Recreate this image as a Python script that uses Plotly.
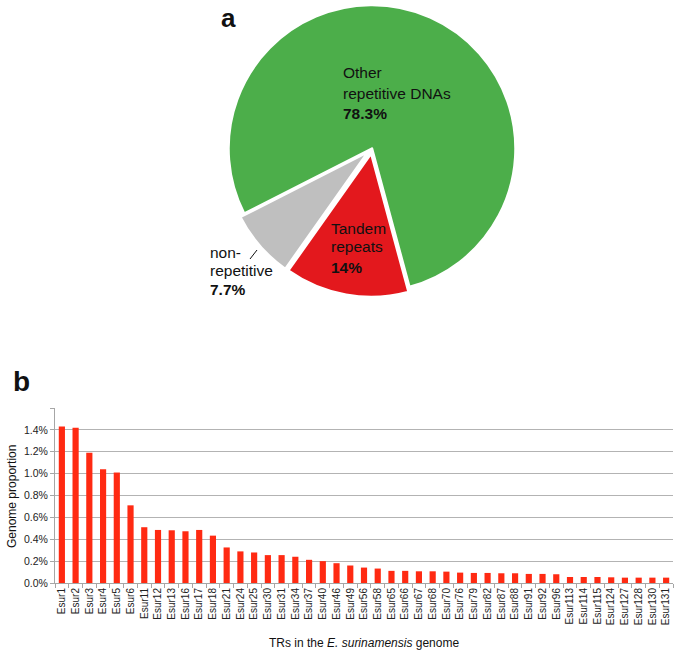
import plotly.graph_objects as go

# ---- data ----
pie_labels = ["Other repetitive DNAs", "Tandem repeats", "non-repetitive"]
pie_values = [78.3, 14.0, 7.7]
pie_colors = ["#4CAE4A", "#E3181D", "#BFBFBF"]

tr_names = ["Esur1", "Esur2", "Esur3", "Esur4", "Esur5", "Esur6", "Esur11", "Esur12",
            "Esur13", "Esur16", "Esur17", "Esur18", "Esur21", "Esur24", "Esur25", "Esur30",
            "Esur31", "Esur34", "Esur37", "Esur40", "Esur46", "Esur49", "Esur56", "Esur58",
            "Esur65", "Esur66", "Esur67", "Esur68", "Esur70", "Esur76", "Esur79", "Esur82",
            "Esur87", "Esur88", "Esur91", "Esur92", "Esur96", "Esur113", "Esur114", "Esur115",
            "Esur124", "Esur127", "Esur128", "Esur130", "Esur131"]
tr_values = [1.43, 1.42, 1.19, 1.04, 1.01, 0.71, 0.51, 0.485, 0.482, 0.473, 0.485, 0.433,
             0.325, 0.289, 0.279, 0.255, 0.255, 0.240, 0.212, 0.200, 0.181, 0.160, 0.141, 0.132,
             0.111, 0.111, 0.107, 0.107, 0.104, 0.095, 0.092, 0.092, 0.089, 0.089, 0.083, 0.083,
             0.080, 0.055, 0.055, 0.055, 0.052, 0.049, 0.049, 0.049, 0.049]
y_ticks = [0, 0.2, 0.4, 0.6, 0.8, 1.0, 1.2, 1.4, 1.6]
y_ticktext = ["0.0%", "0.2%", "0.4%", "0.6%", "0.8%", "1.0%", "1.2%", "1.4%", ""]

W, H = 675, 654
ML, MR, MT, MB = 55, 2, 0, 71
PW, PH = W - ML - MR, H - MT - MB

def px_x(x):
    return (x - ML) / PW

def px_y(y):
    return (H - MB - y) / PH

fig = go.Figure()

# pie
pull = [0, 0.035, 0.035]
half = 144 * 1.035
cx, cy = 372, 148
fig.add_trace(go.Pie(
    labels=pie_labels, values=pie_values, sort=False, direction="clockwise",
    rotation=-117, pull=pull, textinfo="none", hoverinfo="label+percent",
    marker=dict(colors=pie_colors, line=dict(color="white", width=2.5)),
    domain=dict(x=[px_x(cx - half), px_x(cx + half)], y=[px_y(cy + half), min(1, px_y(cy - half))]),
    showlegend=False,
))

# bars
fig.add_trace(go.Bar(
    x=tr_names, y=tr_values, marker=dict(color="#FF2A12", line=dict(width=0)),
    showlegend=False, xaxis="x", yaxis="y",
))

font = "Liberation Sans, Arial, sans-serif"
fig.update_layout(
    width=W, height=H, margin=dict(l=ML, r=MR, t=MT, b=MB),
    paper_bgcolor="white", plot_bgcolor="white",
    font=dict(family=font, color="#222", size=11),
    bargap=0.55,
    xaxis=dict(domain=[0, 1], tickangle=-90, tickfont=dict(size=10, color="#222"),
               automargin=False,
               showgrid=False, showline=True, linecolor="#A6A6A6", linewidth=1,
               ticks="outside", ticklen=4, tickcolor="#A6A6A6", tickson="boundaries",
               fixedrange=True),
    yaxis=dict(domain=[0, px_y(408)], range=[0, 1.6], tickvals=y_ticks, ticktext=y_ticktext,
               tickfont=dict(size=10.5, color="#222"), automargin=False,
               showgrid=True, gridcolor="#B3B3B3", gridwidth=1,
               showline=True, linecolor="#A6A6A6", linewidth=1,
               ticks="outside", ticklen=4, tickcolor="#A6A6A6",
               zeroline=False, fixedrange=True),
)

ann = []
def text(x, y, s, size=15.5, bold=False, anchor="left", angle=0):
    ann.append(dict(x=px_x(x), y=px_y(y), xref="paper", yref="paper", text=(f"<b>{s}</b>" if bold else s),
                    showarrow=False, xanchor=anchor, yanchor="middle", textangle=angle,
                    font=dict(size=size, color="#111", family=font)))

text(219, 18, "a", size=26, bold=True)
text(11, 381, "b", size=28, bold=True)
text(341, 73, "Other")
text(341, 93, "repetitive DNAs")
text(341, 113, "78.3%", bold=True)
text(329, 228, "Tandem")
text(329, 247, "repeats")
text(329, 267, "14%", bold=True)
text(208, 252, "non-")
text(208, 270, "repetitive")
text(208, 289, "7.7%", bold=True)
# axis titles
text(364, 643, "TRs in the <i>E. surinamensis</i> genome", size=12, anchor="center")
text(12, 496, "Genome proportion", size=12, anchor="center", angle=-90)
fig.update_layout(annotations=ann)

fig.add_shape(type="line", xref="paper", yref="paper",
              x0=px_x(250), y0=px_y(259), x1=px_x(257), y1=px_y(250),
              line=dict(color="#111", width=1))

fig.write_html("out.html", config={"displayModeBar": False},
               post_script="document.body.style.margin='0';document.body.style.overflow='hidden';")
